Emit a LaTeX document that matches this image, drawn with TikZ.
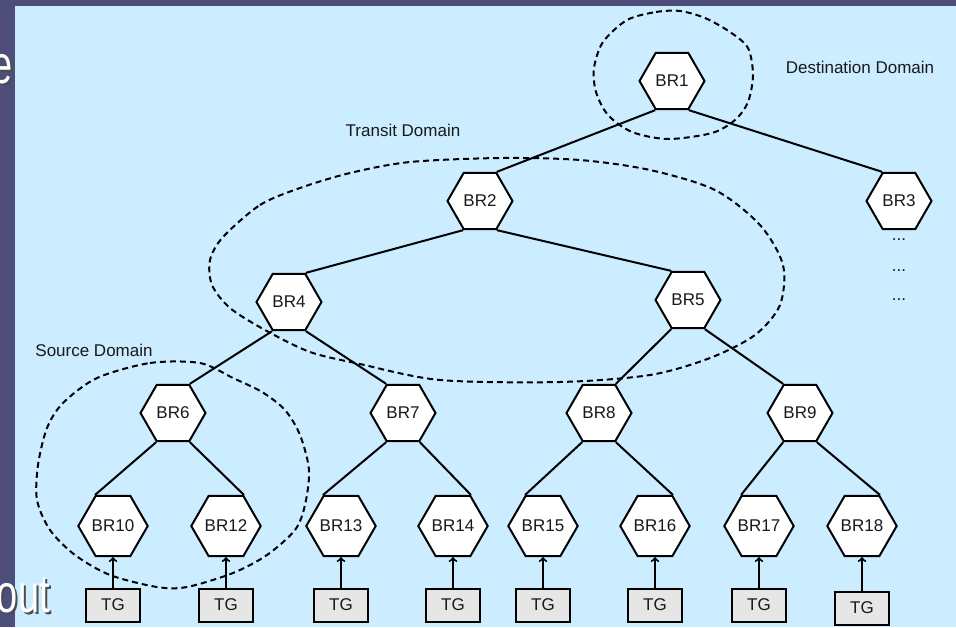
\documentclass[tikz,border=0pt]{standalone}
\usepackage{fontspec}
\setsansfont{Liberation Sans}
\usetikzlibrary{shapes.geometric}
\usetikzlibrary{arrows}
\definecolor{slidebg}{RGB}{78,78,122}
\definecolor{panel}{RGB}{204,236,255}
\definecolor{tgfill}{RGB}{230,230,230}

\begin{document}
\begin{tikzpicture}[x=1pt, y=-1pt,
  every node/.style = {font=\sffamily\fontsize{17}{19}\selectfont, text=black!90},
  router/.style = {draw, fill=white, line width=2pt, regular polygon,
    regular polygon sides=6, minimum size=65pt, inner sep=0pt},
  gen/.style = {draw, fill=tgfill, line width=2pt, minimum width=54pt,
    minimum height=33pt, inner sep=0pt},
  link/.style = {draw, line width=2pt},
  feed/.style = {draw, line width=2pt, ->},
  zone/.style = {draw, line width=2pt, dash pattern=on 6pt off 4pt},
  slidetext/.style = {font=\sffamily\fontsize{40}{40}\selectfont, inner sep=0pt,
    xscale=0.95, yscale=1.35, transform shape}]
  \useasboundingbox (0,0) rectangle (956,627);
  \clip (0,0) rectangle (956,627);
  \fill [slidebg] (0,0) rectangle (956,627);
  \fill [panel] (15,6) rectangle (956,627);

  \node [slidetext, text=black!70, anchor=base east] (eshade) at (15,85) {e};
  \node [slidetext, text=white, anchor=base east] (etext) at (13,83) {e};

  \path [zone] plot [smooth cycle] coordinates {(627,20) (656,12) (680,11)
    (705,18) (730,32) (748,48) (753,75) (748,102) (735,120) (712,133) (668,139)
    (632,132) (608,115) (596,92) (594,68) (603,42)};
  \path [zone] plot [smooth cycle] coordinates {(223,237) (260,205) (300,188)
    (350,173) (410,162) (500,158) (580,160) (650,170) (715,190) (760,225)
    (783,265) (780,305) (755,335) (710,358) (650,375) (560,382) (440,380)
    (360,364) (310,352) (265,330) (230,308) (212,285) (210,260)};
  \path [zone] plot [smooth cycle] coordinates {(97,378) (150,363) (200,363)
    (233,378) (262,392) (285,410) (300,435) (309,470) (305,505) (295,530)
    (267,555) (233,573) (187,587) (157,587) (110,575) (75,555) (50,530)
    (37,500) (38,465) (47,428) (63,403)};

  \node (dest) at (860,67) {Destination Domain};
  \node (transit) at (403,130) {Transit Domain};
  \node (source) at (94,350) {Source Domain};

  \node [router] (br1) at (672,81) {BR1};
  \node [router] (br2) at (480,201) {BR2};
  \node [router] (br3) at (899,201) {BR3};
  \node [router] (br4) at (289,302) {BR4};
  \node [router] (br5) at (688,300) {BR5};
  \node [router] (br6) at (173,413) {BR6};
  \node [router] (br7) at (403,413) {BR7};
  \node [router] (br8) at (599,413) {BR8};
  \node [router] (br9) at (800,413) {BR9};
  \node [router] (br10) at (113,526) {BR10};
  \node [router] (br12) at (226,526) {BR12};
  \node [router] (br13) at (341,526) {BR13};
  \node [router] (br14) at (453,526) {BR14};
  \node [router] (br15) at (543,526) {BR15};
  \node [router] (br16) at (655,526) {BR16};
  \node [router] (br17) at (759,526) {BR17};
  \node [router] (br18) at (862,526) {BR18};

  \node [anchor=base] (more1) at (899,240) {...};
  \node [anchor=base] (more2) at (899,271) {...};
  \node [anchor=base] (more3) at (899,300) {...};

  \path [link] (br1.corner 4) -- (br2.corner 1);
  \path [link] (br1.corner 5) -- (br3.corner 2);
  \path [link] (br2.corner 4) -- (br4.corner 1);
  \path [link] (br2.corner 5) -- (br5.corner 2);
  \path [link] (br4.corner 4) -- (br6.corner 1);
  \path [link] (br4.corner 5) -- (br7.corner 2);
  \path [link] (br5.corner 4) -- (br8.corner 1);
  \path [link] (br5.corner 5) -- (br9.corner 2);
  \path [link] (br6.corner 4) -- (br10.corner 2);
  \path [link] (br6.corner 5) -- (br12.corner 1);
  \path [link] (br7.corner 4) -- (br13.corner 2);
  \path [link] (br7.corner 5) -- (br14.corner 1);
  \path [link] (br8.corner 4) -- (br15.corner 2);
  \path [link] (br8.corner 5) -- (br16.corner 1);
  \path [link] (br9.corner 4) -- (br17.corner 2);
  \path [link] (br9.corner 5) -- (br18.corner 1);

  \node [gen] (tg10) at (113,605) {TG};
  \node [gen] (tg12) at (226,605) {TG};
  \node [gen] (tg13) at (341,605) {TG};
  \node [gen] (tg14) at (453,605) {TG};
  \node [gen] (tg15) at (543,605) {TG};
  \node [gen] (tg16) at (655,605) {TG};
  \node [gen] (tg17) at (759,605) {TG};
  \node [gen] (tg18) at (862,608) {TG};

  \path [feed] (tg10) -- (br10);
  \path [feed] (tg12) -- (br12);
  \path [feed] (tg13) -- (br13);
  \path [feed] (tg14) -- (br14);
  \path [feed] (tg15) -- (br15);
  \path [feed] (tg16) -- (br16);
  \path [feed] (tg17) -- (br17);
  \path [feed] (tg18) -- (br18);

  \node [slidetext, text=black!70, anchor=base east] (oshade) at (52,614) {out};
  \node [slidetext, text=white, anchor=base east] (otext) at (50,612) {out};
\end{tikzpicture}
\end{document}
